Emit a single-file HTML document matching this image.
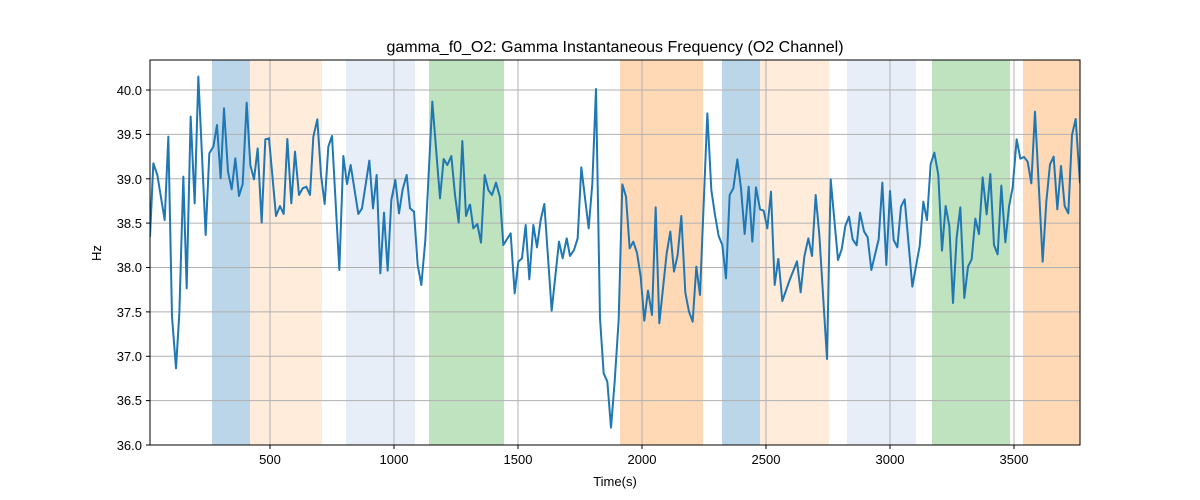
<!DOCTYPE html>
<html><head><meta charset="utf-8"><style>body{margin:0;background:#fff}svg{display:block}text{font-family:"Liberation Sans","DejaVu Sans",sans-serif;fill:#000}</style></head><body>
<svg width="1200" height="500" viewBox="0 0 1200 500">
<defs><clipPath id="c"><rect x="150" y="60" width="930" height="385"/></clipPath></defs>
<g>
<rect x="212" y="60" width="38" height="385" fill="#1f77b4" opacity="0.3"/>
<rect x="250" y="60" width="72" height="385" fill="#ff7f0e" opacity="0.15"/>
<rect x="346" y="60" width="69" height="385" fill="#aec7e8" opacity="0.3"/>
<rect x="429" y="60" width="75" height="385" fill="#2ca02c" opacity="0.3"/>
<rect x="620" y="60" width="83" height="385" fill="#ff7f0e" opacity="0.3"/>
<rect x="722" y="60" width="38" height="385" fill="#1f77b4" opacity="0.3"/>
<rect x="760" y="60" width="69" height="385" fill="#ff7f0e" opacity="0.15"/>
<rect x="847" y="60" width="69" height="385" fill="#aec7e8" opacity="0.3"/>
<rect x="932" y="60" width="78" height="385" fill="#2ca02c" opacity="0.3"/>
<rect x="1023" y="60" width="57" height="385" fill="#ff7f0e" opacity="0.3"/>
</g>
<g stroke="#b0b0b0" stroke-width="1">
<line x1="270" y1="60" x2="270" y2="445"/><line x1="394" y1="60" x2="394" y2="445"/><line x1="518" y1="60" x2="518" y2="445"/><line x1="642" y1="60" x2="642" y2="445"/><line x1="766" y1="60" x2="766" y2="445"/><line x1="890" y1="60" x2="890" y2="445"/><line x1="1014" y1="60" x2="1014" y2="445"/>
<line x1="150" y1="90" x2="1080" y2="90"/><line x1="150" y1="134.4" x2="1080" y2="134.4"/><line x1="150" y1="178.8" x2="1080" y2="178.8"/><line x1="150" y1="223.1" x2="1080" y2="223.1"/><line x1="150" y1="267.5" x2="1080" y2="267.5"/><line x1="150" y1="311.9" x2="1080" y2="311.9"/><line x1="150" y1="356.3" x2="1080" y2="356.3"/><line x1="150" y1="400.6" x2="1080" y2="400.6"/>
</g>
<g clip-path="url(#c)" fill="none" stroke="#1f77b4" stroke-width="2" stroke-linejoin="round">
<g transform="translate(150,60) scale(0.33333)"><polyline vector-effect="non-scaling-stroke" points="0,530 10,310 22,345 44,480 55,230 66,770 78,925 88,760 100,350 110,685 122,170 134,430 145,50 167,525 178,280 190,260 201,195 212,355 222,145 234,335 245,388 256,295 267,408 278,372 290,128 301,315 312,358 323,265 335,488 346,238 357,235 378,468 390,438 401,462 412,237 424,430 435,275 447,405 458,385 469,380 480,405 490,230 502,178 513,345 524,432 535,260 546,228 568,630 580,288 591,372 602,315 625,462 636,445 658,302 669,445 680,345 691,640 702,458 713,632 724,420 736,360 747,460 758,388 770,345 780,445 792,455 803,615 814,675 826,540 847,125 870,415 881,297 892,315 904,288 915,405 926,488 937,243 948,468 960,432"/></g>
<g transform="translate(460,60) scale(0.33333)"><polyline vector-effect="non-scaling-stroke" points="30,432 40,505 52,492 63,548 74,345 85,390 96,405 108,368 120,412 130,555 152,520 164,700 175,605 186,595 197,495 208,658 220,495 231,562 242,480 253,432 275,752 297,545 308,595 320,535 330,588 342,570 353,535 364,322 386,505 397,370 408,87 420,775 431,940 442,965 453,1103 464,965 476,780 487,373 498,410 509,565 520,545 531,578 542,650 553,782 564,692 576,765 587,442 598,790 620,580 631,515 642,635 653,585 664,468 676,698 687,755 698,785 709,620 720,705 742,160 754,390 765,465 776,528 787,555 798,655 809,405 820,385 832,298 843,385 854,522 866,380 877,545 888,382 900,448 911,452 922,505 933,395 944,675 955,595"/></g>
<g transform="translate(770,60) scale(0.33333)"><polyline vector-effect="non-scaling-stroke" points="25,595 37,723 59,660 81,604 92,697 103,590 115,535 126,588 137,405 148,525 171,897 182,358 204,600 215,568 226,498 237,470 248,538 260,556 270,458 282,514 293,532 304,630 326,538 337,368 349,615 360,393 371,540 382,562 393,440 404,418 427,680 449,558 460,425 471,480 482,312 493,278 505,345 516,572 527,438 538,498 549,729 560,532 571,442 583,714 594,620 605,598 616,476 627,522 638,352 650,463 661,342 672,555 683,583 694,377 706,547 717,440 728,382 740,238 751,296 762,291 773,305 784,370 795,155 818,605 829,425 840,313 851,290 862,448 873,318 884,438 895,460 906,225 917,177 930,370"/></g>
</g>
<rect x="150" y="60" width="930" height="385" fill="none" stroke="#000" stroke-width="1"/>
<g stroke="#000"><line x1="270" y1="445" x2="270" y2="449"/><line x1="394" y1="445" x2="394" y2="449"/><line x1="518" y1="445" x2="518" y2="449"/><line x1="642" y1="445" x2="642" y2="449"/><line x1="766" y1="445" x2="766" y2="449"/><line x1="890" y1="445" x2="890" y2="449"/><line x1="1014" y1="445" x2="1014" y2="449"/>
<line x1="146" y1="90" x2="150" y2="90"/><line x1="146" y1="134.4" x2="150" y2="134.4"/><line x1="146" y1="178.8" x2="150" y2="178.8"/><line x1="146" y1="223.1" x2="150" y2="223.1"/><line x1="146" y1="267.5" x2="150" y2="267.5"/><line x1="146" y1="311.9" x2="150" y2="311.9"/><line x1="146" y1="356.3" x2="150" y2="356.3"/><line x1="146" y1="400.6" x2="150" y2="400.6"/><line x1="146" y1="445" x2="150" y2="445"/></g>
<g font-size="13" text-anchor="middle"><text x="270" y="464">500</text><text x="394" y="464">1000</text><text x="518" y="464">1500</text><text x="642" y="464">2000</text><text x="766" y="464">2500</text><text x="890" y="464">3000</text><text x="1014" y="464">3500</text></g>
<g font-size="13" text-anchor="end"><text x="142" y="95">40.0</text><text x="142" y="139">39.5</text><text x="142" y="184">39.0</text><text x="142" y="228">38.5</text><text x="142" y="272">38.0</text><text x="142" y="317">37.5</text><text x="142" y="361">37.0</text><text x="142" y="405">36.5</text><text x="142" y="450">36.0</text></g>
<text x="615" y="486" font-size="13" text-anchor="middle">Time(s)</text>
<text x="101" y="253" font-size="13" text-anchor="middle" transform="rotate(-90 101 253)">Hz</text>
<text x="615" y="52" font-size="16" text-anchor="middle">gamma_f0_O2: Gamma Instantaneous Frequency (O2 Channel)</text>
</svg>
</body></html>
